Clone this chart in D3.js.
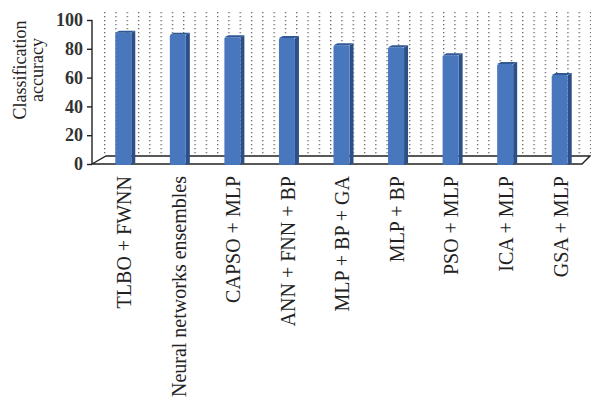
<!DOCTYPE html>
<html>
<head>
<meta charset="utf-8">
<script src="https://cdn.jsdelivr.net/npm/d3@7"></script>
<style>
  body { margin: 0; background: #fff; }
  svg { display: block; }
</style>
</head>
<body>
<script>
// bar chart, 3D-ish look like the excel original
var svgWidth = 591;
var svgHeight = 398;

// data
const categories = ["TLBO + FWNN", "Neural networks ensembles", "CAPSO + MLP", "ANN + FNN + BP",
  "MLP + BP + GA", "MLP + BP", "PSO + MLP", "ICA + MLP", "GSA + MLP"];
const accuracy = [92.6, 91.2, 89.4, 88.9, 83.8, 82.4, 76.9, 70.8, 63.2];
const yTicks = [0, 20, 40, 60, 80, 100];

// depth of the floor (back wall is shifted right/up)
const depthX = 14, depthY = 8;
const axisX = 92;

var svg = d3.select("body")
  .append("svg")
  .attr("width", svgWidth)
  .attr("height", svgHeight);

var yScale = d3.scaleLinear()
  .domain([0, 100])
  .range([164, 20]);

var xScale = d3.scaleBand()
  .domain(categories)
  .range([98, 589]);

// dotted pattern for the back wall
var defs = svg.append("defs");
var pat = defs.append("pattern")
  .attr("id", "dots")
  .attr("patternUnits", "userSpaceOnUse")
  .attr("width", 11.3)
  .attr("height", 4)
  .attr("x", 104)
  .attr("y", 12);
pat.append("rect")
  .attr("x", 0).attr("y", 0)
  .attr("width", 1.3).attr("height", 1.3)
  .attr("fill", "#666");

var wallTop = yScale(100) - depthY;
var wallBottom = yScale(0) - depthY;
svg.append("rect")
  .attr("x", axisX + depthX - 2)
  .attr("y", wallTop)
  .attr("width", svgWidth - (axisX + depthX - 2))
  .attr("height", wallBottom - wallTop)
  .attr("fill", "url(#dots)");

// floor
var y0 = yScale(0);
var floorRight = 582;
svg.append("path")
  .attr("d", `M${axisX},${y0} L${axisX + depthX},${y0 - depthY} L${floorRight + 8},${y0 - depthY} L${floorRight},${y0} Z`)
  .attr("fill", "#fff")
  .attr("stroke", "#222")
  .attr("stroke-width", 1.4);

// bars
var barsGroup = svg.append("g");
categories.forEach(function(c, i) {
  let cx = xScale(c) + xScale.bandwidth() / 2;
  let top = yScale(accuracy[i]);
  let bottom = y0 + 1;
  let g = barsGroup.append("g");
  // side
  g.append("path")
    .attr("d", `M${cx + 6},${top + 2} L${cx + 10},${top} L${cx + 10},${bottom - 2} L${cx + 6},${bottom} Z`)
    .attr("fill", "#2b4f86");
  // front
  g.append("rect")
    .attr("x", cx - 10)
    .attr("y", top + 2)
    .attr("width", 16)
    .attr("height", bottom - top - 2)
    .attr("rx", 1.5)
    .attr("fill", "#4877bd");
  // top
  g.append("path")
    .attr("d", `M${cx - 10},${top + 2} L${cx - 6},${top} L${cx + 10},${top} L${cx + 6},${top + 2} Z`)
    .attr("fill", "#2f5894");
});

// y axis
var leftAxis = d3.axisLeft(yScale)
  .tickValues(yTicks)
  .tickSize(5)
  .tickPadding(4);
var yAxis = svg.append("g")
  .attr("transform", `translate(${axisX},0)`)
  .call(leftAxis);
yAxis.select(".domain").remove();
yAxis.append("line")
  .attr("x1", 0).attr("x2", 0)
  .attr("y1", yScale(100)).attr("y2", y0)
  .attr("stroke", "#222")
  .attr("stroke-width", 1.4);
yAxis.selectAll(".tick line").attr("stroke", "#222").attr("stroke-width", 1.4);
yAxis.selectAll(".tick text")
  .attr("font-family", "'Liberation Serif', serif")
  .attr("font-size", "18px")
  .attr("font-weight", "bold")
  .attr("fill", "#333");

// y label, two lines
var yLabel = svg.append("text")
  .attr("transform", "translate(26,70) rotate(-90)")
  .attr("text-anchor", "middle")
  .attr("font-family", "'Liberation Serif', serif")
  .attr("font-size", "18px")
  .attr("fill", "#222");
yLabel.append("tspan").attr("x", 0).attr("y", 0).text("Classification");
yLabel.append("tspan").attr("x", 0).attr("y", 17).text("accuracy");

// category labels
svg.append("g").selectAll("text")
  .data(categories)
  .enter()
  .append("text")
  .attr("transform", d => `translate(${xScale(d) + xScale.bandwidth() / 2 - 1},176) rotate(-90)`)
  .attr("text-anchor", "end")
  .attr("dy", "0.34em")
  .attr("font-family", "'Liberation Serif', serif")
  .attr("font-size", "20px")
  .attr("fill", "#222")
  .text(d => d);
</script>
</body>
</html>
